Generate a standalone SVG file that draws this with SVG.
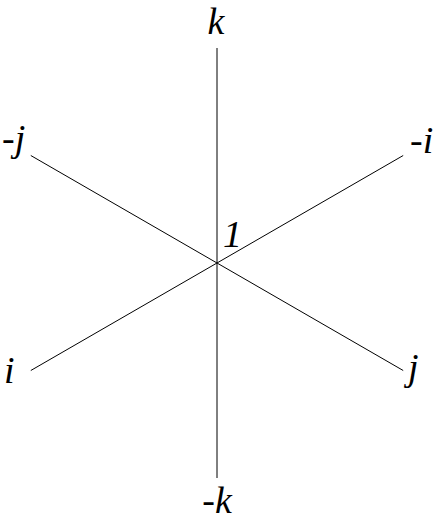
<svg xmlns="http://www.w3.org/2000/svg" width="442" height="522" viewBox="0 0 442 522">
<style>
.ax{stroke:#000;stroke-width:1;fill:none}
.lb{font-family:'Liberation Serif',serif;font-style:italic;font-size:38px;fill:#000}
</style>
<rect width="442" height="522" fill="#fff"/>
<g id="connectors">
<line class="ax" x1="217" y1="48" x2="217" y2="478"/>
<line class="ax" x1="30.8" y1="155.5" x2="403.2" y2="370.5"/>
<line class="ax" x1="30.8" y1="370.5" x2="403.2" y2="155.5"/>
</g>
<g id="n-k"><text class="lb" x="216" y="34" text-anchor="middle">k</text></g>
<g id="n-mk"><text class="lb" x="217" y="513" text-anchor="middle">-k</text></g>
<g id="n-1"><text class="lb" x="223" y="247">1</text></g>
<g id="n-mj"><text class="lb" x="2" y="151">-j</text></g>
<g id="n-mi"><text class="lb" x="410" y="153">-i</text></g>
<g id="n-i"><text class="lb" x="4" y="383">i</text></g>
<g id="n-j"><text class="lb" x="408" y="380">j</text></g>
</svg>
